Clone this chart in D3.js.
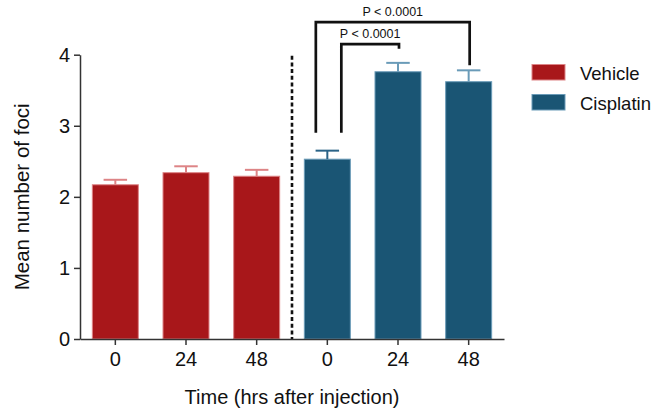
<!DOCTYPE html>
<html>
<head>
<meta charset="utf-8">
<script src="https://cdn.jsdelivr.net/npm/d3@7"></script>
<style>
  body { margin: 0; background: #fff; }
  text { font-family: "Liberation Sans", Arial, sans-serif; fill: #111; }
  .axis path, .axis line { stroke: #333; stroke-width: 1.5px; }
  .axis text { font-size: 20px; fill: #111; }
</style>
</head>
<body>
<svg id="chart" width="652" height="412"></svg>
<script>
  // values
  const groups = ["Vehicle", "Cisplatin"];
  const times = ["0", "24", "48"];
  const vehicleMean = [2.17, 2.34, 2.29];
  const vehicleSem = [0.07, 0.09, 0.09];
  const cisplatinMean = [2.53, 3.76, 3.62];
  const cisplatinSem = [0.12, 0.125, 0.16];
  const yTicks = [0, 1, 2, 3, 4];
  // significance: [group, time a, time b, label]
  const comparisons = [
    ["Cisplatin", "0", "24", "P < 0.0001"],
    ["Cisplatin", "0", "48", "P < 0.0001"],
  ];

  const fills = { Vehicle: "#a8171a", Cisplatin: "#1a5574" };
  const edges = { Vehicle: "#dd8486", Cisplatin: "#6a9bb8" };

  const bars = [];
  groups.forEach((g) => {
    const m = g === "Vehicle" ? vehicleMean : cisplatinMean;
    const s = g === "Vehicle" ? vehicleSem : cisplatinSem;
    times.forEach((t, i) => bars.push({ key: g + " " + t, group: g, time: t, mean: m[i], sem: s[i] }));
  });

  const svg = d3.select("#chart");
  const x = d3.scaleBand()
    .domain(bars.map((d) => d.key))
    .range([80, 504])
    .paddingInner(0.335)
    .paddingOuter(0.1675);
  const y = d3.scaleLinear().domain([0, 4]).range([339, 54.7]);

  // bars
  svg.append("g").selectAll("rect")
    .data(bars)
    .enter()
    .append("rect")
    .attr("x", (d) => x(d.key) + 0.5)
    .attr("y", (d) => y(d.mean))
    .attr("width", x.bandwidth() - 1)
    .attr("height", (d) => y(0) - y(d.mean))
    .attr("fill", (d) => fills[d.group])
    .attr("stroke", (d) => edges[d.group])
    .attr("stroke-width", 1);

  // error bars (upper only)
  const cap = x.bandwidth() / 2;
  const err = svg.append("g").selectAll("g").data(bars).enter().append("g");
  const errColor = (d) => (d.key === "Cisplatin 0" ? "#2a6387" : edges[d.group]);
  err.append("line")
    .attr("x1", (d) => x(d.key) + x.bandwidth() / 2)
    .attr("x2", (d) => x(d.key) + x.bandwidth() / 2)
    .attr("y1", (d) => y(d.mean))
    .attr("y2", (d) => y(d.mean + d.sem))
    .attr("stroke", errColor)
    .attr("stroke-width", 2);
  err.append("line")
    .attr("x1", (d) => x(d.key) + x.bandwidth() / 2 - cap / 2)
    .attr("x2", (d) => x(d.key) + x.bandwidth() / 2 + cap / 2)
    .attr("y1", (d) => y(d.mean + d.sem))
    .attr("y2", (d) => y(d.mean + d.sem))
    .attr("stroke", errColor)
    .attr("stroke-width", 2);

  // divider between groups
  const divX = (x("Vehicle 48") + x.bandwidth() + x("Cisplatin 0")) / 2;
  svg.append("line")
    .attr("x1", divX).attr("x2", divX)
    .attr("y1", y(4) + 1).attr("y2", y(0))
    .attr("stroke", "#111")
    .attr("stroke-width", 2.6)
    .attr("stroke-dasharray", "4,2.7");

  // axes
  svg.append("g")
    .attr("class", "axis")
    .attr("transform", "translate(80,0)")
    .call(d3.axisLeft(y).tickValues(yTicks).tickFormat(d3.format("d")).tickSize(6).tickPadding(4).tickSizeOuter(0));
  svg.append("g")
    .attr("class", "axis")
    .attr("transform", "translate(0," + y(0) + ")")
    .call(d3.axisBottom(x).tickFormat((k) => k.split(" ")[1]).tickSize(6).tickPadding(7).tickSizeOuter(0));

  svg.append("text")
    .attr("transform", "translate(28.5," + (y(0) + y(4)) / 2 + ") rotate(-90)")
    .attr("text-anchor", "middle")
    .style("font-size", "20.5px")
    .text("Mean number of foci");
  svg.append("text")
    .attr("x", (80 + 504) / 2)
    .attr("y", 404)
    .attr("text-anchor", "middle")
    .style("font-size", "20px")
    .text("Time (hrs after injection)");

  // significance brackets
  const brTop = [y(4) - 10.5, y(4) - 32.5];
  const brGap = [14, 5];
  comparisons.forEach((c, i) => {
    const a = bars.find((d) => d.key === c[0] + " " + c[1]);
    const b = bars.find((d) => d.key === c[0] + " " + c[2]);
    const xa = x(a.key) + x.bandwidth() / 2 + (i === 0 ? 14 : -11.5);
    const xb = x(b.key) + x.bandwidth() / 2 + 1;
    const ya = y(a.mean + a.sem) - 18;
    const yb = y(b.mean + b.sem) - brGap[i];
    svg.append("path")
      .attr("d", `M${xa},${ya}V${brTop[i]}H${xb}V${yb}`)
      .attr("fill", "none")
      .attr("stroke", "#111")
      .attr("stroke-width", 2.7);
    svg.append("text")
      .attr("x", (xa + xb) / 2)
      .attr("y", brTop[i] - 6.5)
      .attr("text-anchor", "middle")
      .style("font-size", "12.5px")
      .text(c[3]);
  });

  // legend
  const legend = svg.append("g").selectAll("g")
    .data(groups)
    .enter()
    .append("g")
    .attr("transform", (d, i) => "translate(532," + (64.5 + i * 30) + ")");
  legend.append("rect")
    .attr("width", 33).attr("height", 15.5)
    .attr("fill", (d) => fills[d])
    .attr("stroke", (d) => edges[d])
    .attr("stroke-width", 1);
  legend.append("text")
    .attr("x", 48)
    .attr("y", 15)
    .style("font-size", "18.5px")
    .text((d) => d);
</script>
</body>
</html>
